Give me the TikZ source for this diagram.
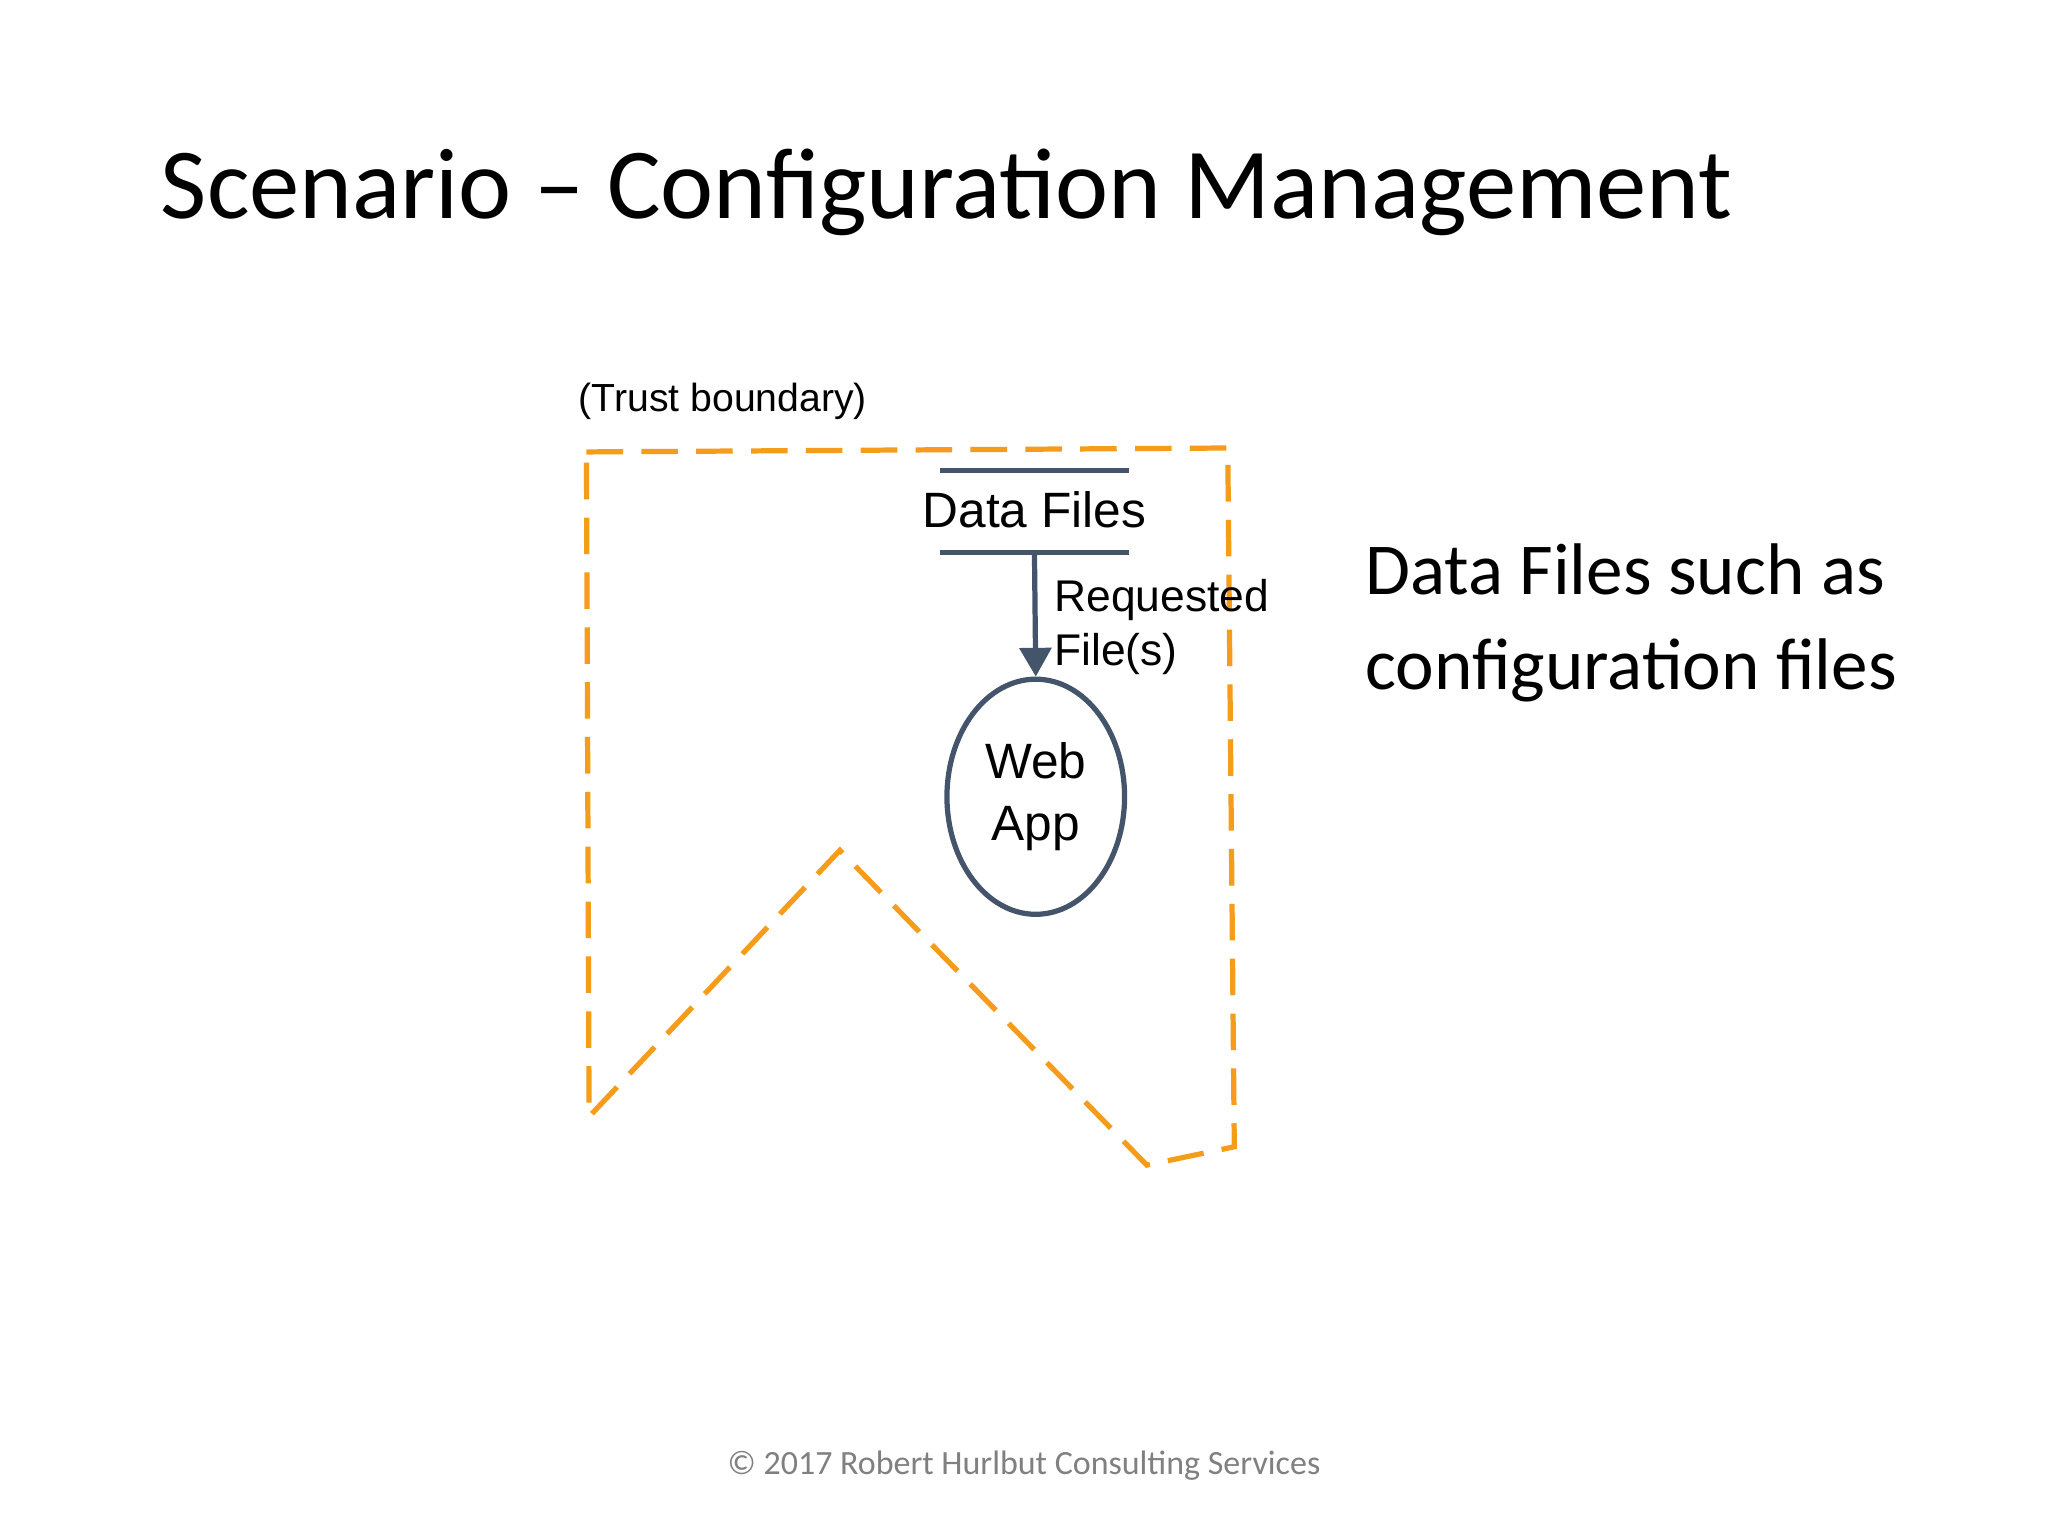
\documentclass[tikz,border=0pt]{standalone}
\usepackage{fontspec}
\setmainfont{Carlito}
\newfontfamily\arialf{Liberation Sans}
\usetikzlibrary{arrows.meta,shapes.geometric}
\definecolor{slate}{HTML}{44546A}
\definecolor{bnd}{HTML}{F59C1A}
\tikzset{
  bline/.style={bnd,line width=4pt,dash pattern=on 28pt off 14pt},
  storeline/.style={slate,line width=4pt},
  lbl/.style={font=\arialf\fontsize{34}{40}\selectfont,inner sep=0pt},
  proc/.style={draw=slate,line width=4pt,ellipse,minimum width=136pt,minimum height=180pt,inner sep=0pt,align=center,font=\arialf\fontsize{38}{47}\selectfont},
}
\begin{document}
\begin{tikzpicture}[x=1pt,y=-1pt]
\useasboundingbox[fill=white] (0,0) rectangle (1568,1176);
\node[anchor=west,inner sep=0pt,font=\fontsize{77}{80}\selectfont] (title) at (123,147) {Scenario – Configuration Management};
\node[anchor=west,lbl,font=\arialf\fontsize{30}{34}\selectfont] (tb) at (443,307) {(Trust boundary)};
\draw[bline] (449,346) -- (940,343) -- (945,878) -- (878,892) -- (643,651) -- (451,855) -- cycle;
\coordinate (s1a) at (720,360); \coordinate (s1b) at (864,360);
\coordinate (s2a) at (720,423); \coordinate (s2b) at (864,423);
\draw[storeline] (s1a) -- (s1b);
\draw[storeline] (s2a) -- (s2b);
\node[lbl,font=\arialf\fontsize{38}{40}\selectfont] (df) at (792,390) {Data Files};
\node[proc] (web) at (793,610) {Web\\App};
\coordinate (dfb) at (792,423);
\draw[slate,line width=4pt,-{Triangle[length=22pt,width=24pt]}] (dfb) -- (web.north);
\node[lbl,anchor=north west,align=left,font=\arialf\fontsize{34}{42}\selectfont] (rq) at (807,443) {Requested\\File(s)};
\node[anchor=north west,inner sep=0pt,align=left,font=\fontsize{56}{73}\selectfont] (side) at (1045,416) {Data Files such as\\configuration files};
\node[inner sep=0pt,text=gray,font=\fontsize{26}{28}\selectfont] (foot) at (784,1122) {© 2017 Robert Hurlbut Consulting Services};
\end{tikzpicture}
\end{document}
